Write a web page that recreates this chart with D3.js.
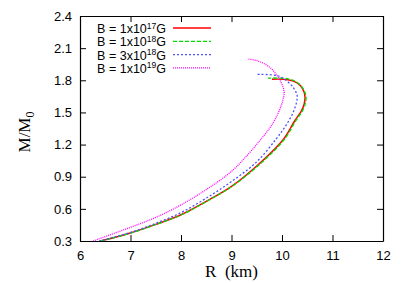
<!DOCTYPE html>
<html>
<head>
<meta charset="utf-8">
<script src="https://cdn.jsdelivr.net/npm/d3@7"></script>
<style>
  body { margin: 0; background: #fff; }
</style>
</head>
<body>
<svg width="403" height="283"></svg>
<script>
// mass-radius curves, (R km, M/M0)
var rB17 = [6.40, 7.0, 7.5, 8.0, 8.5, 9.0, 9.5, 10.03, 10.25, 10.38, 10.44, 10.455, 10.41, 10.3, 10.12, 9.80];
var mB17 = [0.30, 0.375, 0.455, 0.545, 0.67, 0.81, 1.0, 1.25, 1.42, 1.51, 1.58, 1.65, 1.72, 1.775, 1.805, 1.81];

var rB18 = [6.41, 7.01, 7.51, 8.01, 8.51, 9.01, 9.52, 10.05, 10.27, 10.4, 10.46, 10.475, 10.42, 10.3, 10.1, 9.72];
var mB18 = [0.30, 0.375, 0.455, 0.545, 0.67, 0.81, 1.0, 1.25, 1.42, 1.51, 1.58, 1.65, 1.72, 1.78, 1.815, 1.82];

var rB3e18 = [6.38, 7.0, 7.5, 8.0, 8.5, 9.0, 9.5, 9.88, 10.08, 10.22, 10.29, 10.3, 10.24, 10.13, 9.93, 9.51];
var mB3e18 = [0.30, 0.38, 0.465, 0.565, 0.70, 0.855, 1.04, 1.25, 1.38, 1.50, 1.60, 1.66, 1.72, 1.78, 1.84, 1.855];

var rB19 = [6.26, 7.0, 7.5, 8.0, 8.5, 9.0, 9.35, 9.6, 9.78, 9.93, 10.02, 10.04, 9.93, 9.76, 9.53, 9.31];
var mB19 = [0.30, 0.428, 0.52, 0.637, 0.78, 0.95, 1.12, 1.26, 1.37, 1.50, 1.62, 1.70, 1.825, 1.92, 1.98, 2.0];

var xTicks = [6, 7, 8, 9, 10, 11, 12];
var yTicks = [0.3, 0.6, 0.9, 1.2, 1.5, 1.8, 2.1, 2.4];

var seriesExp = ["17", "18", "18", "19"];
var seriesPre = ["1", "1", "3", "1"];
var seriesColors = ["#ff0000", "#00dd00", "#5050ff", "#ff00ff"];
var seriesDash = [null, "4,2", "2,2", "1,1"];
var seriesR = [rB17, rB18, rB3e18, rB19];
var seriesM = [mB17, mB18, mB3e18, mB19];

var sans = "'Liberation Sans', Arial, sans-serif",
    serif = "'Liberation Serif', 'Times New Roman', serif";

var svg = d3.select("svg"),
    margin = {top: 16, right: 20, bottom: 42, left: 80},
    width = +svg.attr("width") - margin.left - margin.right,
    height = +svg.attr("height") - margin.top - margin.bottom;

var x = d3.scaleLinear().domain([6, 12]).range([0, width]);
var y = d3.scaleLinear().domain([0.3, 2.4]).range([height, 0]);

var g = svg.append("g")
    .attr("transform", "translate(" + margin.left + "," + margin.top + ")");

g.append("defs").append("clipPath").attr("id", "clip")
  .append("rect").attr("width", width).attr("height", height);

// axes with inward ticks, mirrored on top and right
var fmtY = d3.format(".1f"), fmtX = d3.format("d");
var axB = g.append("g").attr("transform", "translate(0," + height + ")")
    .call(d3.axisBottom(x).tickValues(xTicks).tickFormat(fmtX).tickSizeInner(-6).tickSizeOuter(0).tickPadding(10));
var axL = g.append("g")
    .call(d3.axisLeft(y).tickValues(yTicks).tickFormat(fmtY).tickSizeInner(-6).tickSizeOuter(0).tickPadding(8));
var axT = g.append("g")
    .call(d3.axisTop(x).tickValues(xTicks).tickSizeInner(-6).tickSizeOuter(0).tickFormat(""));
var axR = g.append("g").attr("transform", "translate(" + width + ",0)")
    .call(d3.axisRight(y).tickValues(yTicks).tickSizeInner(-6).tickSizeOuter(0).tickFormat(""));

[axB, axL, axT, axR].forEach(function(a) {
    a.attr("font-family", null).attr("font-size", null);
    a.select(".domain").attr("stroke", "#000").attr("stroke-width", 1.2);
    a.selectAll(".tick line").attr("stroke", "#000");
    a.selectAll(".tick text").style("font-size", "13px").style("font-family", sans).attr("fill", "#000");
});

// curves
var line = d3.line()
    .x(function(d) { return x(d[0]); })
    .y(function(d) { return y(d[1]); })
    .curve(d3.curveCatmullRom.alpha(0.5));

seriesR.forEach(function(rs, i) {
    var pts = rs.map(function(r, k) { return [r, seriesM[i][k]]; });
    g.append("path")
        .datum(pts)
        .attr("clip-path", "url(#clip)")
        .attr("fill", "none")
        .attr("stroke", seriesColors[i])
        .attr("stroke-width", i === 0 ? 1.5 : 1.3)
        .attr("stroke-dasharray", seriesDash[i])
        .attr("d", line);
});

// legend
var leg = g.append("g").attr("transform", "translate(0,12)");
seriesExp.forEach(function(s, i) {
    var row = leg.append("g").attr("transform", "translate(0," + (i * 13.3) + ")");
    var t = row.append("text")
        .attr("x", 86).attr("y", 5)
        .attr("text-anchor", "end")
        .style("font-family", sans)
        .style("font-size", "12.5px").attr("fill", "#000");
    t.append("tspan").text("B = " + seriesPre[i] + "x10");
    t.append("tspan").style("font-size", "8.5px").attr("dy", -4.5).text(s);
    t.append("tspan").attr("dy", 4.5).text("G");
    row.append("line")
        .attr("x1", 93).attr("x2", 131)
        .attr("y1", 0).attr("y2", 0)
        .attr("stroke", seriesColors[i])
        .attr("stroke-width", i === 0 ? 1.5 : 1.3)
        .attr("stroke-dasharray", seriesDash[i]);
});

// axis titles
svg.append("text")
    .attr("x", margin.left + width / 2).attr("y", 277)
    .attr("text-anchor", "middle")
    .style("font-family", serif)
    .style("font-size", "17px")
    .style("white-space", "pre")
    .text("R  (km)");

var yl = svg.append("text")
    .attr("transform", "translate(30,132) rotate(-90)")
    .attr("text-anchor", "middle")
    .style("font-family", serif)
    .style("font-size", "17px");
yl.append("tspan").text("M/M");
yl.append("tspan").style("font-size", "12px").attr("dy", 4).text("0");
</script>
</body>
</html>
